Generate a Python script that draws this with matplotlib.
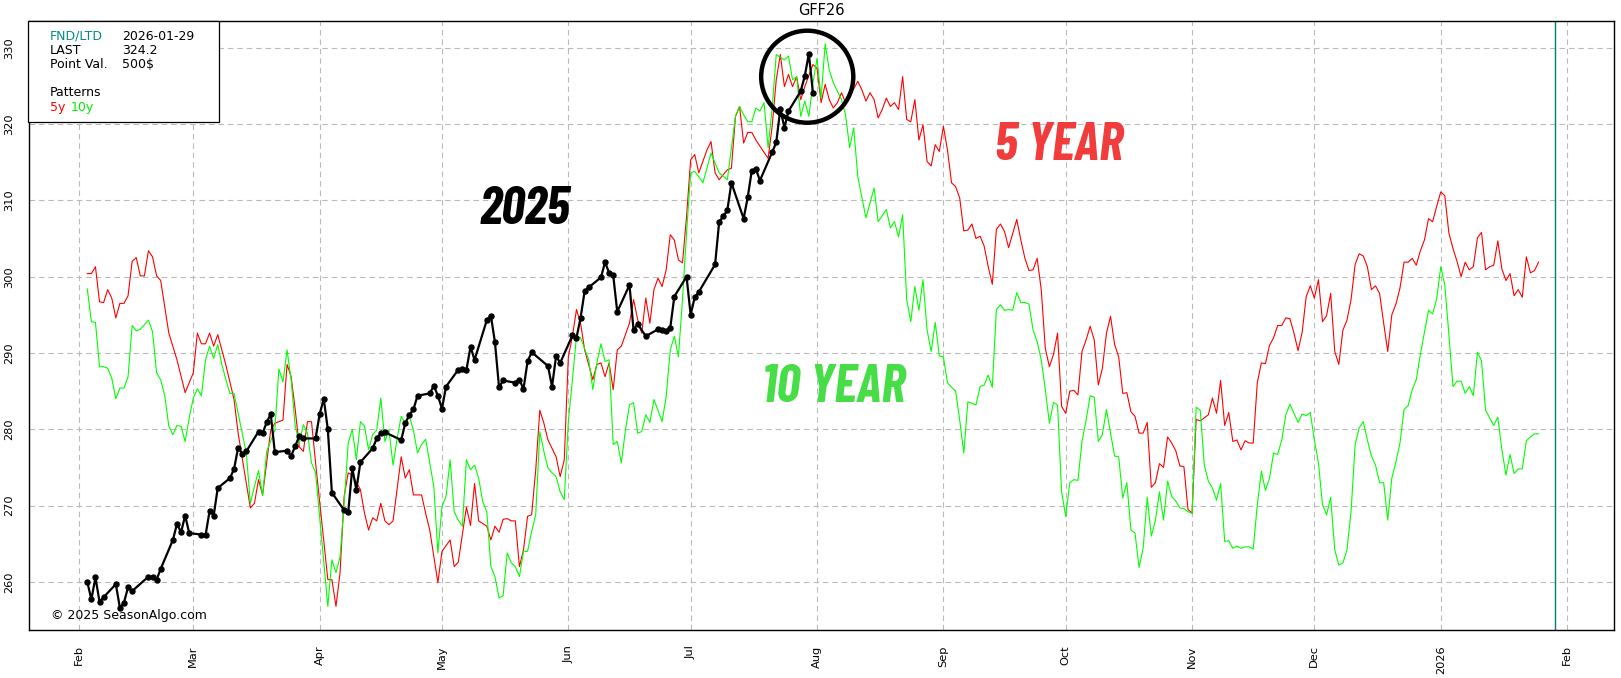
import matplotlib
matplotlib.use("Agg")
import matplotlib.pyplot as plt
from matplotlib import font_manager
from matplotlib.patches import Ellipse, Rectangle
import matplotlib.dates as mdates
import pandas as pd

# seasonal chart for GFF26, x = days since 2025-02-01
season_start = pd.Timestamp("2025-02-01")

# 2025 actual (trading days)
black_day = [2, 3, 4, 5, 6, 9, 10, 11, 12, 13, 17, 18, 19, 20,
             23, 24, 25, 26, 27, 30, 31, 32, 33, 34, 37, 38, 39, 40, 41,
             44, 45, 46, 47, 48, 51, 52, 53, 54, 55, 58, 59, 60, 61, 62,
             65, 66, 67, 68, 69, 72, 73, 74, 75, 79, 80, 81, 82, 83,
             86, 87, 88, 89, 90, 93, 94, 95, 96, 97, 100, 101, 102, 103, 104,
             107, 108, 109, 110, 111, 115, 116, 117, 118, 121, 122, 123, 124, 125,
             128, 129, 130, 131, 132, 135, 136, 137, 139, 142, 143, 144, 145, 146,
             149, 150, 151, 152, 156, 157, 158, 159, 160, 163, 164, 165, 166, 167,
             170, 171, 172, 173, 174, 177, 178, 179, 180]
black_val = [260.0, 257.7, 260.6, 257.4, 258.0, 259.7, 256.6, 257.3, 259.3, 258.8,
             260.7, 260.6, 260.3, 261.7,
             265.5, 267.6, 266.5, 268.7, 266.4, 266.2, 266.1, 269.3, 268.7, 272.3,
             273.6, 274.8, 277.6, 276.8, 277.1,
             279.7, 279.5, 280.9, 282.0, 277.0, 277.2, 276.5, 277.8, 279.1, 278.8,
             278.8, 282.0, 284.0, 280.0, 271.7,
             269.4, 269.1, 274.9, 272.1, 275.7, 277.5, 278.8, 279.5, 279.6,
             278.6, 280.8, 281.9, 282.6, 284.4,
             284.7, 285.7, 284.4, 282.7, 285.6, 287.8, 287.9, 287.8, 290.8, 289.1,
             294.3, 294.9, 291.4, 285.5, 286.4,
             286.1, 286.5, 285.3, 288.9, 290.1, 288.3, 285.6, 289.6, 288.7,
             292.3, 292.0, 294.6, 298.1, 298.6,
             299.9, 301.9, 300.5, 300.2, 295.4, 298.9, 293.0, 293.8, 292.2,
             293.1, 293.0, 292.9, 293.3, 297.4,
             300.0, 295.0, 297.3, 298.0, 301.6, 307.2, 307.9, 308.7, 312.3,
             307.6, 310.4, 313.9, 314.1, 312.6,
             316.3, 317.6, 322.0, 319.5, 321.7, 324.3, 326.3, 329.2, 324.1]

# 5 year pattern
red_day = ([2, 3, 4, 5, 6, 7, 8, 9, 10, 11, 12, 13, 14, 15, 16, 17, 18, 19, 20,
            22, 24, 26, 28, 29, 30, 31, 32, 33, 34, 36, 38, 39,
            42, 43, 44, 45, 47, 48, 50, 51, 52, 53, 54, 55, 56, 57, 58,
            61, 62, 63, 64, 65, 66, 67, 69, 70, 71, 72, 73, 74, 75, 76, 77,
            79, 80, 81, 82, 84, 85, 86, 88, 89, 91, 92, 93, 95, 96, 97, 98,
            100, 101, 102, 103, 104, 105, 106, 107, 108, 109, 110, 111, 112, 113, 114, 115,
            117, 118, 119, 120, 121, 122, 123, 124, 126, 127, 128, 129, 130, 131, 132, 133,
            135, 136, 137, 138, 139, 140, 141, 142, 143, 144, 145, 146, 147, 148, 149,
            150, 151, 152, 154, 155, 156, 157, 159, 160, 161, 162, 163, 164, 165, 166, 167,
            169, 170, 171, 172, 173, 174, 175, 176, 177, 178, 180, 181,
            182, 183, 184, 185, 186, 187, 188, 189, 191, 192, 193, 194, 195, 196, 197, 198,
            199, 200, 201, 202, 203, 204, 205, 206, 207, 208, 209, 210, 211, 212, 213,
            214, 215, 216, 217, 218, 219, 220, 221, 222, 223, 224, 225, 226, 227, 228,
            230, 231, 232, 233, 234, 235, 236, 237, 238, 239, 240]
           + list(range(241, 359)))
red_val = [300.4, 300.4, 301.3, 296.7, 296.6, 298.3, 297.2, 294.6, 296.5, 296.5,
           297.5, 302.0, 302.5, 300.1, 300.1, 303.4, 302.6, 300.1, 299.5,
           292.6, 289.1, 284.8, 287.4, 292.6, 291.2, 291.2, 292.6, 290.9, 292.4, 288.4, 283.9, 279.5,
           269.7, 270.3, 273.4, 271.4, 279.9, 280.8, 281.2, 288.5, 286.9, 282.6, 277.7, 277.1, 281.0, 281.0, 275.6,
           260.3, 260.3, 256.8, 261.2, 271.2, 274.3, 274.0, 272.1, 269.0, 266.8, 268.4, 268.0, 270.3, 268.0, 267.5, 268.0,
           276.4, 273.6, 274.7, 271.4, 271.4, 269.0, 266.8, 259.9, 264.0, 265.5, 262.0, 262.6, 269.8, 267.4, 272.9, 268.0,
           267.3, 265.5, 267.3, 266.5, 268.2, 268.3, 268.0, 268.0, 262.0, 264.2, 268.6, 268.8, 274.7, 282.5, 280.8, 278.6,
           276.4, 273.8, 276.0, 289.5, 292.2, 295.7, 293.9, 290.4, 286.5, 288.5, 288.7, 286.9, 288.7, 285.2, 290.4, 290.9,
           293.9, 297.0, 294.4, 292.6, 297.2, 293.9, 298.3, 299.8, 298.7, 300.9, 305.5, 304.8, 302.2, 301.8, 307.9,
           315.3, 316.0, 313.6, 316.6, 317.7, 313.6, 312.7, 314.0, 314.2, 321.0, 322.3, 317.5, 318.9, 318.9, 317.9, 317.1,
           315.5, 319.7, 325.8, 329.1, 324.9, 326.5, 324.9, 326.2, 323.2, 324.9, 327.8, 327.3,
           322.8, 325.2, 323.2, 322.1, 322.8, 324.1, 322.8, 323.6, 325.6, 324.5, 323.0, 324.1, 323.2, 320.8, 321.9, 323.4,
           322.3, 322.8, 321.9, 326.2, 320.6, 320.3, 323.2, 317.9, 319.9, 315.1, 314.5, 317.3, 316.4, 319.7, 316.6,
           312.3, 311.8, 310.3, 306.0, 306.1, 306.9, 305.0, 305.3, 304.0, 301.3, 299.0, 306.2, 306.9, 305.9, 303.8,
           307.5, 304.8, 302.4, 300.8, 300.9, 302.4, 298.3, 290.6, 288.2, 289.8, 292.6,
           283.0, 282.1, 285.0, 285.1, 284.5, 290.2, 291.7, 293.5, 291.7, 285.8,
           288.0, 292.6, 294.8, 291.1, 289.5, 284.7, 284.8, 282.3, 281.7, 279.5,
           279.5, 280.9, 272.4, 273.0, 275.5, 275.0, 279.0, 278.2, 277.2, 275.2,
           275.1, 269.5, 269.0,
           281.3, 281.1, 281.5, 281.9, 284.1, 282.1, 286.4, 280.5, 282.2, 278.4,
           278.6, 277.3, 278.5, 278.2, 278.2, 286.1, 288.7, 288.6, 291.0, 292.0,
           293.6, 293.6, 294.6, 294.5, 292.6, 290.3, 292.7, 297.4, 298.8, 297.2,
           299.6, 294.1, 294.9, 297.8, 290.2, 288.5, 293.0, 294.3, 297.0, 301.6,
           303.0, 302.7, 301.3, 298.3, 298.8, 297.8, 293.9, 290.2, 295.0, 296.4,
           298.5, 301.9, 301.9, 302.4, 301.5, 303.4, 304.8, 307.6, 307.2, 309.2,
           311.1, 310.6, 305.7, 303.7, 302.0, 300.0, 301.9, 300.9, 301.3, 305.1,
           305.8, 300.9, 301.3, 301.5, 304.7, 301.0, 299.5, 300.4, 297.5, 298.3,
           297.3, 302.6, 300.5, 300.8, 301.9]

# 10 year pattern
green_day = (list(range(2, 47)) + list(range(48, 59)) + list(range(61, 122))
             + [122, 123, 125, 126, 127, 128, 129, 130, 131, 132, 133, 134, 135, 136, 137,
                138, 139, 140, 141, 143, 144, 145, 146, 147, 148, 149, 150, 151, 152, 153,
                154, 155, 156, 157, 159, 161, 162, 163, 164, 165, 166, 167, 168, 169, 170,
                171, 173, 174, 175, 176, 177, 178, 179, 180, 181, 182, 183, 184, 185, 186,
                187, 188, 189, 190, 191, 193, 195, 196, 198, 199, 200, 201, 202]
             + list(range(203, 359)))
green_val = [298.4, 294.1, 294.0, 288.2, 288.2, 288.0, 286.7, 284.0, 285.4, 285.4,
             286.9, 293.6, 292.9, 293.1, 293.7, 294.3, 292.8, 287.4, 286.5, 284.4,
             280.4, 279.3, 280.5, 280.4, 278.4, 281.5, 284.1, 285.3, 284.4, 289.1,
             290.9, 289.3, 291.1, 288.5, 286.5, 284.7, 284.7, 282.1, 279.5, 276.9,
             270.3, 272.5, 274.6, 271.3, 277.1,
             279.9, 287.9, 286.2, 290.4, 286.5, 280.4, 278.2, 280.6, 279.5, 275.6, 274.3,
             256.8, 262.9, 261.2, 263.3, 270.3, 278.2, 280.0, 276.0, 281.0, 280.4,
             277.3, 279.3, 279.9, 284.1, 278.4, 279.9, 275.3, 278.8, 281.7, 280.8,
             281.7, 279.9, 276.9, 278.0, 278.7, 275.6, 272.5, 263.8, 269.9, 271.2,
             276.0, 269.2, 268.1, 267.3, 276.0, 274.7, 275.3, 273.6, 270.5, 269.2,
             262.0, 260.7, 257.9, 258.2, 263.8, 262.5, 262.0, 260.7, 264.0, 264.0,
             266.6, 268.8, 279.7, 277.1, 274.9, 274.3, 273.8, 271.8, 270.8, 281.0, 286.5,
             292.2, 292.0, 289.1, 285.2, 288.7, 291.2, 288.9, 289.1, 278.0, 278.4, 275.6, 279.9, 283.2, 283.5, 279.5,
             279.7, 281.9, 280.9, 283.9, 281.0, 284.3, 290.4, 292.2, 289.5, 297.0, 305.7, 313.6, 313.8, 313.1, 312.3,
             314.2, 316.2, 314.9, 313.6, 312.7, 321.0, 322.3, 321.2, 320.3, 320.3, 322.1, 321.7, 322.8, 316.9, 322.1,
             329.1, 328.4, 328.9, 325.8, 326.2, 321.0, 323.0, 321.0, 325.4, 328.6, 323.4, 330.5, 327.1, 325.4, 324.3,
             323.2, 321.2, 316.9, 319.5, 313.1, 307.7, 311.6, 307.2, 308.8, 306.4, 307.2, 305.2, 308.1,
             297.0, 294.1, 298.7, 295.6, 299.6, 293.0, 290.2, 294.0, 289.6, 289.5,
             286.1, 285.5, 285.0, 281.2, 276.9, 283.6, 283.4, 283.2, 285.6, 285.8,
             287.1, 285.5, 295.7, 296.3, 295.6, 295.7, 295.6, 297.9, 296.6, 296.6,
             296.4, 293.0, 291.5, 289.1, 285.2, 280.8, 283.5, 283.2, 271.8, 268.6,
             273.0, 273.4, 273.3, 278.4, 281.2, 284.4, 284.2, 278.4, 279.3, 282.6,
             279.5, 276.5, 276.4, 271.0, 273.0, 266.8, 266.4, 261.9, 264.4, 271.1,
             266.0, 268.0, 271.8, 268.1, 273.2, 271.2, 270.6, 269.7, 269.6, 269.2,
             269.0, 282.9, 282.5, 275.3, 273.2, 272.3, 270.7, 272.9, 265.3, 265.4,
             264.4, 264.7, 264.4, 264.6, 264.6, 264.3, 270.1, 274.5, 272.0, 273.6,
             276.9, 276.7, 278.6, 281.9, 283.3, 282.1, 280.9, 282.0, 281.8, 282.2,
             278.6, 275.6, 270.1, 268.8, 271.1, 264.2, 262.2, 262.5, 264.2, 269.2,
             278.0, 280.2, 281.0, 278.6, 276.5, 275.3, 273.0, 273.0, 268.1, 273.6,
             275.7, 278.2, 282.6, 283.1, 285.2, 286.5, 289.8, 292.7, 295.6, 295.1,
             297.1, 301.3, 298.9, 292.4, 285.6, 286.3, 286.3, 284.7, 285.6, 284.4,
             290.1, 289.0, 282.5, 281.5, 280.5, 281.6, 277.3, 274.0, 276.7, 274.2,
             274.8, 274.8, 278.5, 279.0, 279.4, 279.4]

month_labels = ["Feb", "Mar", "Apr", "May", "Jun", "Jul", "Aug",
                "Sep", "Oct", "Nov", "Dec", "2026", "Feb"]
y_ticks = [260, 270, 280, 290, 300, 310, 320, 330]
fnd_ltd = "2026-01-29"
last_price = "324.2"
point_value = "500$"

assert len(black_day) == len(black_val)
assert len(red_day) == len(red_val)
assert len(green_day) == len(green_val)


def to_dates(days):
    return season_start + pd.to_timedelta(days, unit="D")


def big_font():
    # condensed bold italic face for the big labels, if one is installed
    best = None
    for f in font_manager.fontManager.ttflist:
        if f.name == "Barlow Condensed" and f.style == "italic":
            w = f.weight if isinstance(f.weight, int) else 400
            if best is None or abs(w - 700) < abs(best[0] - 700):
                best = (w, f.fname)
    if best:
        return font_manager.FontProperties(fname=best[1], size=38)
    return font_manager.FontProperties(family="DejaVu Sans", weight="bold",
                                       style="italic", size=26)


W, H = 1621, 678
fig = plt.figure(figsize=(W / 100, H / 100), dpi=100)
ax = fig.add_axes([29 / W, 1 - 630 / H, (1614 - 29) / W, (630 - 21) / H])

ax.plot(to_dates(red_day), red_val, color="#ff0000", lw=0.8, zorder=2)
ax.plot(to_dates(green_day), green_val, color="#00ff00", lw=0.8, zorder=2)
ax.plot(to_dates(black_day), black_val, color="black", lw=1.6,
        marker="o", ms=3.6, zorder=3)

ax.axvline(pd.Timestamp(fnd_ltd), color="#007b7b", lw=1.0, zorder=2)

ax.set_xlim(season_start - pd.Timedelta(days=12.3), season_start + pd.Timedelta(days=376.5))
ax.set_ylim(253.7, 333.5)

month_ticks = pd.date_range("2025-02-01", "2026-02-01", freq="MS")
ax.set_xticks(month_ticks)
ax.set_xticklabels(month_labels, rotation=90, va="top", ha="center")
ax.set_yticks(y_ticks)
ax.set_yticklabels([str(v) for v in y_ticks], rotation=90, va="center")
ax.tick_params(axis="both", length=0, labelsize=8.2, pad=11)
ax.grid(True, color="#bbbbbb", lw=0.8, ls=(0, (5, 3.5)))
ax.set_axisbelow(True)
for s in ax.spines.values():
    s.set_linewidth(1.0)

ax.set_title("GFF26", fontsize=10.5, pad=4)

# circle round the recent high
ax.add_patch(Ellipse((mdates.date2num(season_start + pd.Timedelta(days=178.6)), 326.2),
                     width=22.6, height=12.06, fill=False, lw=3.2, color="black", zorder=4))

# big labels
fp = big_font()
ax.text(season_start + pd.Timedelta(days=109.3), 306.9, "2025", color="black",
        fontproperties=fp, ha="center", va="baseline", zorder=5)
ax.text(season_start + pd.Timedelta(days=240.4), 315.3, "5 YEAR", color="#f23b3b",
        fontproperties=fp, ha="center", va="baseline", zorder=5)
ax.text(season_start + pd.Timedelta(days=185.1), 283.6, "10 YEAR", color="#47dd47",
        fontproperties=fp, ha="center", va="baseline", zorder=5)

# info box
fig.patches.append(Rectangle((28 / W, 1 - 122 / H), (219 - 28) / W, (122 - 21) / H,
                             transform=fig.transFigure, facecolor="white",
                             edgecolor="black", lw=0.9, zorder=5))
rows = [("FND/LTD", fnd_ltd, 36), ("LAST", last_price, 50), ("Point Val.", point_value, 64)]
for lab, val, py in rows:
    fig.text(50 / W, 1 - py / H, lab, fontsize=9, va="center",
             color="#008b8b" if lab == "FND/LTD" else "black", zorder=6)
    fig.text(122 / W, 1 - py / H, val, fontsize=9, va="center", zorder=6)
fig.text(50 / W, 1 - 93 / H, "Patterns", fontsize=9, va="center", zorder=6)
fig.text(50 / W, 1 - 107 / H, "5y", fontsize=9, va="center", color="#ff0000", zorder=6)
fig.text(71 / W, 1 - 107 / H, "10y", fontsize=9, va="center", color="#00ee00", zorder=6)

fig.text(51 / W, 1 - 616 / H, "\u00a9 2025 SeasonAlgo.com", fontsize=9, va="center")

fig.savefig("out.png", dpi=100)
